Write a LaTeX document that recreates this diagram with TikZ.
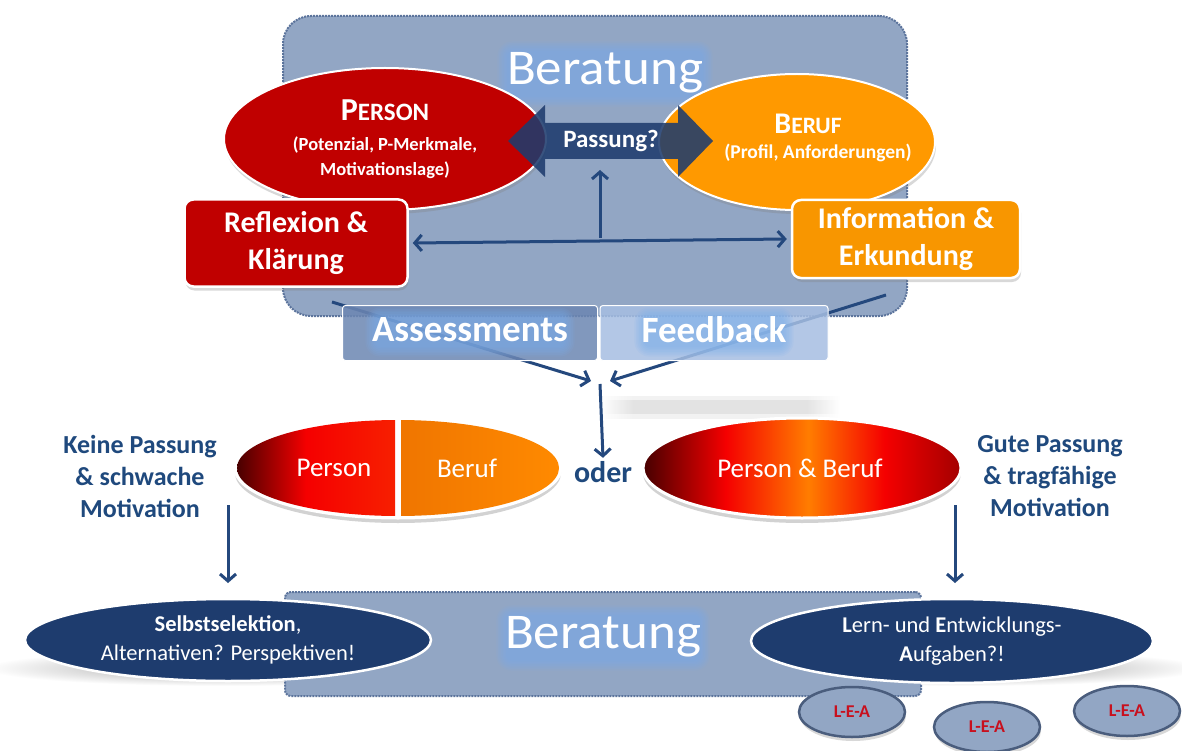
\documentclass[tikz,border=0pt]{standalone}
\usepackage{fontspec}
\setmainfont{Carlito}
\usetikzlibrary{shapes.geometric,arrows.meta,shadows}

\definecolor{boxblue}{RGB}{146,166,196}
\definecolor{boxedge}{RGB}{92,116,156}
\definecolor{navy}{RGB}{30,60,110}
\definecolor{linkblue}{RGB}{36,72,125}
\definecolor{textblue}{RGB}{31,73,125}
\definecolor{deepred}{RGB}{192,0,0}
\definecolor{amber}{RGB}{255,153,0}
\definecolor{infoorange}{RGB}{248,150,0}
\definecolor{glowblue}{RGB}{120,175,240}
\definecolor{assessblue}{RGB}{108,134,178}
\definecolor{feedblue}{RGB}{166,190,226}
\definecolor{maroon}{RGB}{70,0,0}
\definecolor{hotred}{RGB}{245,0,0}
\definecolor{flame}{RGB}{255,125,0}
\definecolor{leared}{RGB}{200,16,30}

% colour runs for the two result ellipses
\pgfdeclarehorizontalshading{personhalf}{100bp}{color(0bp)=(maroon); color(25bp)=(maroon); color(47bp)=(hotred); color(75bp)=(hotred!75!flame); color(100bp)=(hotred!75!flame)}
\pgfdeclarehorizontalshading{berufhalf}{100bp}{color(0bp)=(flame!94!black); color(25bp)=(flame!94!black); color(75bp)=(flame!90!yellow); color(100bp)=(flame!90!yellow)}
\pgfdeclarehorizontalshading{fitshade}{100bp}{color(0bp)=(maroon); color(25bp)=(maroon); color(38bp)=(hotred); color(51bp)=(flame); color(63bp)=(hotred); color(75bp)=(deepred!85!black); color(100bp)=(deepred!85!black)}
% soft grey band that fades out towards both ends
\pgfdeclarehorizontalshading{bandfade}{100bp}{color(0bp)=(white); color(25bp)=(white); color(32bp)=(gray!22); color(68bp)=(gray!22); color(75bp)=(white); color(100bp)=(white)}

\tikzset{
  conn/.style={draw=linkblue, line width=3pt},
  barb/.style={-{Straight Barb[length=7pt,width=16pt]}},
  bothbarb/.style={{Straight Barb[length=7pt,width=16pt]}-{Straight Barb[length=7pt,width=16pt]}},
  softshadow/.style={drop shadow={shadow xshift=1pt, shadow yshift=-4pt, opacity=0.3}},
  stage/.style={draw=boxedge, densely dotted, line width=2pt, fill=boxblue},
  topic/.style={ellipse, draw=white, line width=2pt, minimum width=#1, inner sep=0pt, softshadow},
  taskbox/.style={rectangle, rounded corners=9pt, draw=white, line width=2.5pt, softshadow,
    text=white, font=\bfseries\fontsize{30}{37}\selectfont, align=center, inner sep=0pt},
  toolbox/.style={rectangle, rounded corners=3pt, draw=white, line width=1pt, fill opacity=0.85},
  outcome/.style={ellipse, draw=white, line width=3pt, inner sep=0pt,
    drop shadow={shadow xshift=0pt, shadow yshift=-5pt, opacity=0.35}},
  goal/.style={ellipse, fill=navy, draw=white, line width=2.5pt, inner sep=0pt,
    text=white, font=\fontsize{22.5}{29}\selectfont, align=center},
  lea/.style={ellipse, fill=boxblue, draw=boxedge!80!black, line width=2.5pt,
    minimum width=106pt, minimum height=50pt, inner sep=0pt, softshadow,
    text=leared, font=\bfseries\fontsize{18}{20}\selectfont},
  sidetext/.style={text=textblue, font=\bfseries\fontsize{26}{32}\selectfont, align=center},
  whitelabel/.style={text=white, font=\fontsize{27}{30}\selectfont},
  bigword/.style={text=white, font=\fontsize{50}{56}\selectfont},
  toolword/.style={text=white, font=\bfseries\fontsize{37}{40}\selectfont},
}

% soft light-blue glow behind a word: centre x, centre y, width, height
\newcommand\softglow[4]{%
  \foreach \k in {0,...,6}{
    \fill[glowblue, opacity=0.11, rounded corners={6pt+1.5pt*\k}]
      ({#1-#3/2-1.6*\k},{#2-#4/2-1.6*\k}) rectangle ({#1+#3/2+1.6*\k},{#2+#4/2+1.6*\k});}}

\begin{document}
\begin{tikzpicture}[x=1pt, y=-1pt]
\useasboundingbox (0,0) rectangle (1182,751);
\fill[white] (0,0) rectangle (1182,751);

% ---------- upper counselling stage ----------
\node[stage, rounded corners=28pt, minimum width=624pt, minimum height=300pt] (topstage) at (595,166) {};
\softglow{605}{74}{196}{46}
\node[bigword] (topword) at (605,73) {\scalebox{1.06}[1]{Beratung}};

\node[topic=322pt, fill=deepred, minimum height=142pt] (person) at (385,139) {};
\node[topic=276pt, fill=amber, minimum height=136pt] (beruf) at (797,142) {};

\node[text=white, font=\bfseries] (persontitle) at (385,110)
  {\fontsize{32}{34}\selectfont P\fontsize{25}{34}\selectfont ERSON};
\node[text=white, font=\bfseries\fontsize{18.5}{25}\selectfont, align=center] (persondesc) at (385,158)
  {(Potenzial, P-Merkmale,\\Motivationslage)};
\node[text=white, font=\bfseries] (beruftitle) at (808,124)
  {\fontsize{30}{34}\selectfont B\fontsize{23.5}{34}\selectfont ERUF};
\node[text=white, font=\bfseries\fontsize{19.5}{22}\selectfont] (berufdesc) at (818,153)
  {(Profil, Anforderungen)};

% double arrow "fit?"
\fill[navy, fill opacity=0.88] (508,141) -- (545,105) -- (545,123) -- (678,123) -- (678,105) -- (713,141)
  -- (678,177) -- (678,159) -- (545,159) -- (545,177) -- cycle;
\node[text=white, font=\bfseries\fontsize{25}{28}\selectfont] (passung) at (611,141) {Passung?};
\coordinate (passungbase) at (600,170);

\node[taskbox, fill=deepred, minimum width=223pt, minimum height=87pt] (reflexion) at (296,243) {Reflexion \&\\Klärung};
\node[taskbox, fill=infoorange, minimum width=228pt, minimum height=78pt] (info) at (906,239) {Information \&\\Erkundung};

\draw[conn, bothbarb] ([xshift=4pt]reflexion.east) -- ([xshift=-4pt]info.west);
\coordinate (fork) at (600,238);
\draw[conn, barb] (fork) -- (passungbase);

% ---------- tools ----------
\coordinate (leftfeed) at (332,302);
\coordinate (rightfeed) at (886,295);
\coordinate (merge) at (600,384);
\coordinate (mergeL) at (591,381);
\coordinate (mergeR) at (610,381);
\draw[conn, barb] (leftfeed) -- (mergeL);
\draw[conn, barb] (rightfeed) -- (mergeR);

\node[toolbox, fill=assessblue, minimum width=255pt, minimum height=55pt] (assessbox) at (470,333) {};
\node[toolbox, fill=feedblue, minimum width=228pt, minimum height=55pt] (feedbox) at (714,333) {};
\softglow{470}{332}{190}{30}
\softglow{714}{332}{140}{30}
\node[toolword] (assess) at (470,330) {Assessments};
\node[toolword] (feed) at (714,330) {Feedback};

% faint reflection below the tools
\begin{scope}
  \clip (600,394) rectangle (840,420);
  \shade[shading=bandfade] (600,396) rectangle (840,418);
  \fill[white, opacity=0.55] (600,394) rectangle (840,400);
  \fill[white, opacity=0.55] (600,414) rectangle (840,420);
\end{scope}

% ---------- results ----------
\node[outcome, fill=white, minimum width=326pt, minimum height=100pt] (split) at (398,468) {};
\begin{scope}
  \clip (split.center) ellipse [x radius=161pt, y radius=48pt];
  \shade[shading=personhalf] (236,418) rectangle (395,518);
  \shade[shading=berufhalf] (401,418) rectangle (560,518);
\end{scope}
\node[whitelabel] (splitperson) at (334,468) {Person};
\node[whitelabel] (splitberuf) at (467,468) {Beruf};

\node[outcome, shading=fitshade, minimum width=318pt, minimum height=100pt] (fit) at (802,468) {};
\node[whitelabel] (fitlabel) at (800,468) {Person \& Beruf};

\node[text=textblue, font=\bfseries\fontsize{30}{34}\selectfont] (oder) at (603,472) {oder};
\draw[conn, barb] (merge) -- (oder.north);

\node[sidetext] (nofit) at (140,476) {Keine Passung\\\& schwache\\Motivation};
\node[sidetext] (goodfit) at (1050,476) {Gute Passung\\\& tragfähige\\Motivation};

\coordinate (nofitstart) at (228,505);
\coordinate (goodfitstart) at (955,505);
\coordinate (nofitend) at (228,583);
\coordinate (goodfitend) at (955,583);
\draw[conn, barb] (nofitstart) -- (nofitend);
\draw[conn, barb] (goodfitstart) -- (goodfitend);

% ---------- lower counselling stage ----------
\shade[inner color=gray!75, outer color=white] (225,668) ellipse [x radius=240pt, y radius=18pt];
\shade[inner color=gray!75, outer color=white] (968,668) ellipse [x radius=235pt, y radius=18pt];

\node[stage, rounded corners=6pt, minimum width=636pt, minimum height=104pt] (lowstage) at (603,644) {};
\softglow{603}{638}{194}{46}
\node[bigword] (lowword) at (603,637) {\scalebox{1.06}[1]{Beratung}};

\node[goal, minimum width=406pt, minimum height=82pt] (selektion) at (228,640)
  {\textbf{Selbstselektion},\\Alternativen? Perspektiven!};
\node[goal, minimum width=402pt, minimum height=84pt] (aufgaben) at (952,641)
  {\textbf{L}ern- und \textbf{E}ntwicklungs-\\\textbf{A}ufgaben?!};

\node[lea] (lea1) at (852,712) {L-E-A};
\node[lea] (lea2) at (987,727) {L-E-A};
\node[lea] (lea3) at (1127,711) {L-E-A};
\end{tikzpicture}
\end{document}
